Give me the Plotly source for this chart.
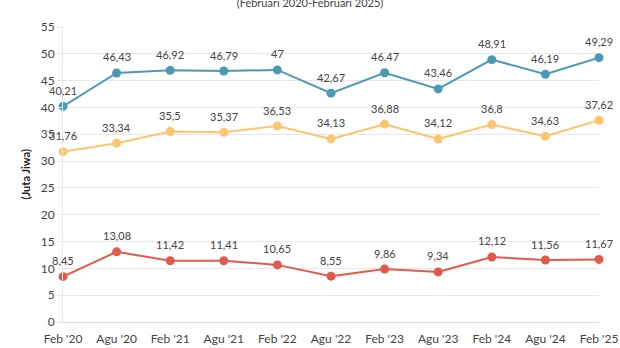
import plotly.graph_objects as go

periods = ["Feb '20", "Agu '20", "Feb '21", "Agu '21", "Feb '22", "Agu '22",
           "Feb '23", "Agu '23", "Feb '24", "Agu '24", "Feb '25"]
blue_vals = [40.21, 46.43, 46.92, 46.79, 47, 42.67, 46.47, 43.46, 48.91, 46.19, 49.29]
yellow_vals = [31.76, 33.34, 35.5, 35.37, 36.53, 34.13, 36.88, 34.12, 36.8, 34.63, 37.62]
red_vals = [8.45, 13.08, 11.42, 11.41, 10.65, 8.55, 9.86, 9.34, 12.12, 11.56, 11.67]
y_ticks = [0, 5, 10, 15, 20, 25, 30, 35, 40, 45, 50, 55]

series = [
    (blue_vals, "#4a9ab5"),
    (yellow_vals, "#fec56f"),
    (red_vals, "#e25a49"),
]

FONT = "Lato"
TXT = "#444444"

fig = go.Figure()
xs = list(range(len(periods)))
annotations = []
for vals, color in series:
    fig.add_trace(go.Scatter(
        x=xs, y=vals, mode="lines+markers",
        line=dict(color=color, width=2),
        marker=dict(color=color, size=9),
        hoverinfo="skip", showlegend=False, cliponaxis=False,
    ))
    for x, v in zip(xs, vals):
        label = f"{v:g}".replace(".", ",")
        annotations.append(dict(
            x=x, y=v, text=label, showarrow=False, yshift=16,
            xanchor="center", yanchor="middle",
            font=dict(family=FONT, size=11, color=TXT),
        ))

annotations.append(dict(
    xref="paper", yref="paper", x=0, y=0.5, xshift=-38, yshift=0,
    text="<b>(Juta Jiwa)</b>", textangle=-90, showarrow=False,
    xanchor="center", yanchor="middle",
    font=dict(family=FONT, size=11, color="#222222"),
))

fig.update_layout(
    width=620, height=348,
    margin=dict(l=63, r=21, t=27, b=26, autoexpand=False),
    paper_bgcolor="white", plot_bgcolor="white",
    title=dict(text="(Februari 2020-Februari 2025)", x=0.5, xanchor="center",
               yref="container", y=0.99, yanchor="middle",
               font=dict(family=FONT, size=11, color=TXT)),
    xaxis=dict(range=[0, 10], tickmode="array", tickvals=xs, ticktext=periods,
               showgrid=False, zeroline=False, showline=True, linecolor="#dddddd",
               linewidth=1, ticks="outside", ticklen=6, tickcolor="rgba(0,0,0,0)",
               tickfont=dict(family=FONT, size=12, color=TXT),
               automargin=False, fixedrange=True),
    yaxis=dict(range=[0, 55], tickmode="array", tickvals=y_ticks,
               showgrid=True, gridcolor="#e8e8e8", gridwidth=1, zeroline=False,
               showline=True, linecolor="#e8e8e8", ticks="outside", ticklen=5,
               tickcolor="#e8e8e8", tickfont=dict(family=FONT, size=12, color=TXT),
               automargin=False, fixedrange=True),
    annotations=annotations,
)

fig.write_html("out.html")
